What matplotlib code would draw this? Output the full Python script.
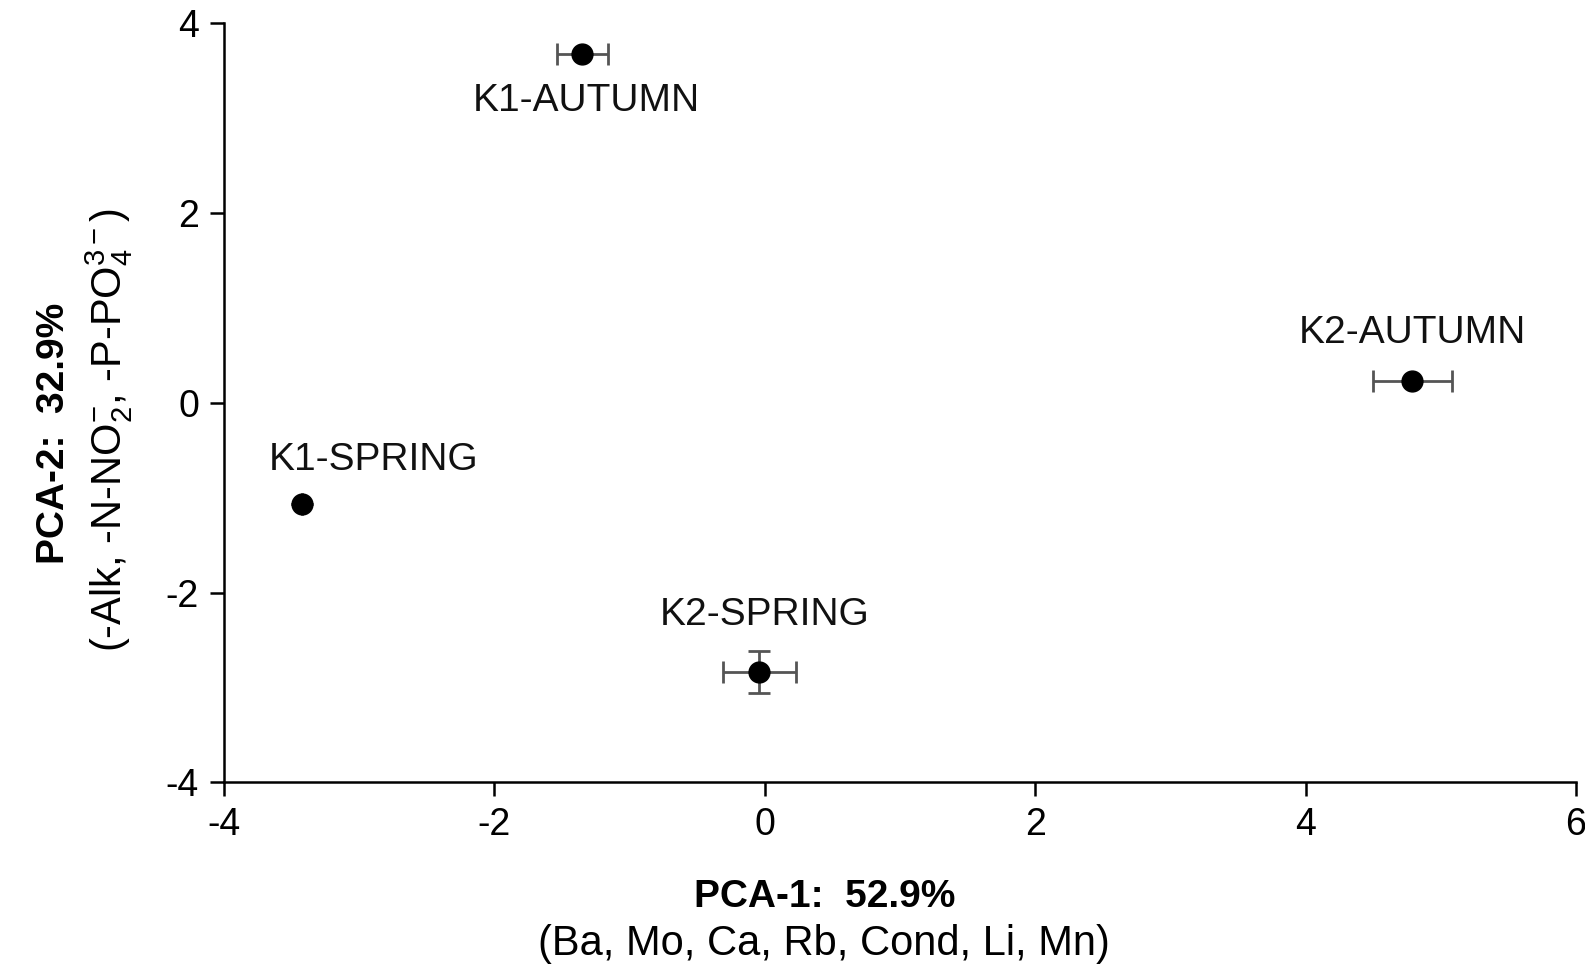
import matplotlib
matplotlib.use('Agg')
import matplotlib.pyplot as plt

# PCA scores (mean +/- error)
names = ['K1-AUTUMN', 'K2-AUTUMN', 'K1-SPRING', 'K2-SPRING']
pc1 = [-1.35, 4.79, -3.42, -0.04]
pc2 = [3.67, 0.23, -1.07, -2.84]
pc1_err = [0.19, 0.29, 0.0, 0.27]
pc2_err = [0.0, 0.0, 0.0, 0.22]
# label anchor positions (data units)
lab_x = [-1.32, 4.79, -2.89, 0.0]
lab_y = [3.18, 0.73, -0.60, -2.24]

plt.rcParams['font.family'] = ['Liberation Sans', 'DejaVu Sans']
plt.rcParams['mathtext.fontset'] = 'custom'
plt.rcParams['mathtext.rm'] = 'Liberation Sans'
plt.rcParams['mathtext.it'] = 'Liberation Sans'
plt.rcParams['axes.unicode_minus'] = False

fig = plt.figure(figsize=(15.85, 9.69), dpi=100)
ax = fig.add_axes([0.1413, 0.1925, 0.8530, 0.7840])

ax.errorbar(pc1, pc2, xerr=pc1_err, yerr=pc2_err, fmt='o', color='black',
            ms=15, ecolor='#555555', elinewidth=2, capsize=8, capthick=2)

for n, x, y in zip(names, lab_x, lab_y):
    ax.text(x, y, n, fontsize=28, ha='center', va='center', color='#111111')

ax.set_xlim(-4, 6)
ax.set_ylim(-4, 4)
ax.set_xticks([-4, -2, 0, 2, 4, 6])
ax.set_yticks([-4, -2, 0, 2, 4])
ax.spines['top'].set_visible(False)
ax.spines['right'].set_visible(False)
for s in ['left', 'bottom']:
    ax.spines[s].set_linewidth(1.8)
ax.tick_params(direction='out', length=10, width=1.8, labelsize=27, pad=8)

# axis titles
fig.text(0.520, 0.074, 'PCA-1:  52.9%', fontsize=28, fontweight='bold',
         ha='center', va='center')
fig.text(0.520, 0.026, '(Ba, Mo, Ca, Rb, Cond, Li, Mn)', fontsize=30,
         ha='center', va='center')
fig.text(0.034, 0.553, 'PCA-2:  32.9%', fontsize=28, fontweight='bold',
         ha='center', va='center', rotation=90)
fig.text(0.069, 0.556, r'(-Alk, -N-NO$_2^{-}$, -P-PO$_4^{3-}$)', fontsize=30,
         ha='center', va='center', rotation=90)

fig.savefig('out.png', dpi=100)
